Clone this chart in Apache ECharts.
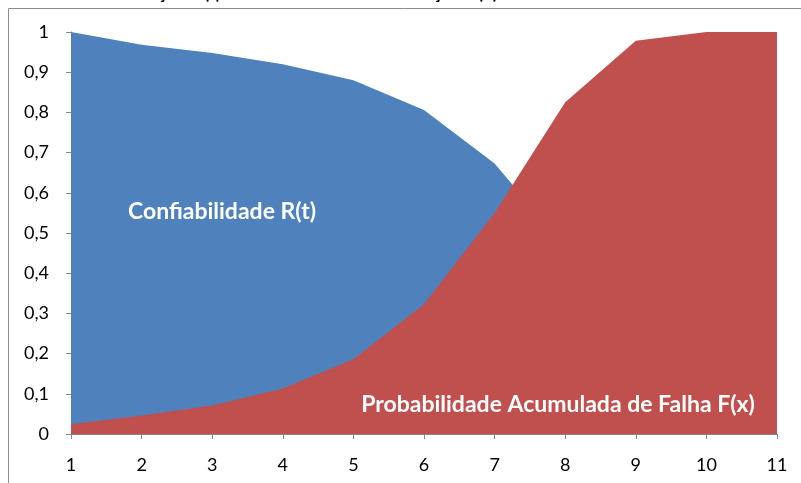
<!DOCTYPE html>
<html>
<head>
<meta charset="utf-8">
<script src="https://cdn.jsdelivr.net/npm/echarts@6/dist/echarts.min.js"></script>
<style>
  html, body { margin: 0; padding: 0; background: #ffffff; }
  #chart { width: 801px; height: 483px; }
</style>
</head>
<body>
<div id="chart"></div>
<script>
// Tempo (eixo x) e curvas de confiabilidade / probabilidade de falha
var categorias = ['1', '2', '3', '4', '5', '6', '7', '8', '9', '10', '11'];
var confiabilidade = [1.0, 0.968, 0.948, 0.92, 0.88, 0.806, 0.673, 0.465, 0.22, 0.08, 0.02];
var probFalha = [0.024, 0.046, 0.071, 0.113, 0.186, 0.323, 0.55, 0.825, 0.978, 1.0, 1.0];
var rotuloR = 'Confiabilidade R(t)';
var rotuloF = 'Probabilidade Acumulada de Falha F(x)';
var tituloR = 'Função R(t)';
var tituloF = 'Função F(x)';

var azul = '#4F81BD';
var vermelho = '#C0504D';
var cinzaEixo = '#868686';
var fonte = 'Lato, "Open Sans", sans-serif';

var chart = echarts.init(document.getElementById('chart'), null, { renderer: 'canvas' });

chart.setOption({
  animation: false,
  backgroundColor: '#ffffff',
  grid: { left: 71, right: 24, top: 32, bottom: 49, containLabel: false },
  xAxis: {
    type: 'category',
    data: categorias,
    boundaryGap: false,
    axisLine: { lineStyle: { color: cinzaEixo, width: 1 } },
    axisTick: { show: true, length: 5, alignWithLabel: true, lineStyle: { color: cinzaEixo } },
    axisLabel: { color: '#000', fontFamily: fonte, fontSize: 18, margin: 22 },
    splitLine: { show: false }
  },
  yAxis: {
    type: 'value',
    min: 0,
    max: 1,
    interval: 0.1,
    axisLine: { show: true, lineStyle: { color: cinzaEixo, width: 1 } },
    axisTick: { show: true, length: 5, lineStyle: { color: cinzaEixo } },
    axisLabel: {
      color: '#000', fontFamily: fonte, fontSize: 18, margin: 22,
      formatter: function (v) {
        return String(Math.round(v * 10) / 10).replace('.', ',');
      }
    },
    splitLine: { show: false }
  },
  series: [
    {
      name: rotuloR,
      type: 'line',
      data: confiabilidade,
      symbol: 'none',
      lineStyle: { width: 0 },
      areaStyle: { color: azul, opacity: 1 },
      z: 2
    },
    {
      name: rotuloF,
      type: 'line',
      data: probFalha,
      symbol: 'none',
      lineStyle: { width: 0 },
      areaStyle: { color: vermelho, opacity: 1 },
      z: 3
    }
  ],
  graphic: [
    // moldura
    { type: 'line', silent: true, shape: { x1: 8.5, y1: 8.5, x2: 801, y2: 8.5 }, style: { stroke: '#8c8c8c', lineWidth: 1 } },
    { type: 'line', silent: true, shape: { x1: 8.5, y1: 8.5, x2: 8.5, y2: 483 }, style: { stroke: '#8c8c8c', lineWidth: 1 } },
    // título (acima da moldura)
    { type: 'text', silent: true, x: 221, y: 2.5, style: { text: tituloR, fill: '#000', font: 'bold 19px ' + fonte, align: 'right', verticalAlign: 'bottom' } },
    { type: 'text', silent: true, x: 498, y: 2.5, style: { text: tituloF, fill: '#000', font: 'bold 19px ' + fonte, align: 'right', verticalAlign: 'bottom' } },
    // rótulos das áreas
    { type: 'text', silent: true, z: 10, x: 222, y: 212, style: { text: rotuloR, fill: '#fff', font: 'bold 23px ' + fonte, align: 'center', verticalAlign: 'middle' } },
    { type: 'text', silent: true, z: 10, x: 558, y: 405, style: { text: rotuloF, fill: '#fff', font: 'bold 23px ' + fonte, align: 'center', verticalAlign: 'middle' } }
  ]
});
</script>
</body>
</html>
